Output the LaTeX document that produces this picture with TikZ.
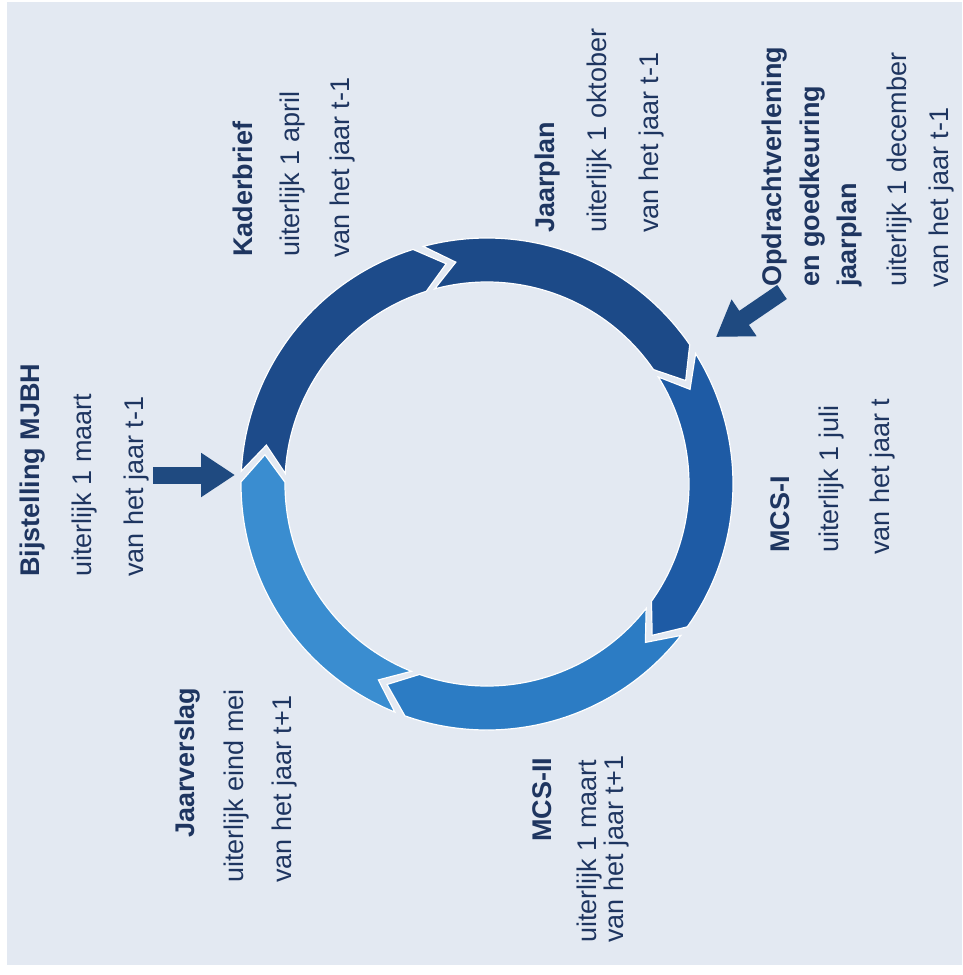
\documentclass[tikz,border=0pt]{standalone}
\usepackage{fontspec}
\setmainfont{Liberation Sans}
\usetikzlibrary{arrows.meta}
\definecolor{bg}{HTML}{E3E9F2}
\definecolor{txt}{HTML}{1E3560}
\definecolor{segA}{HTML}{1D4B8A}
\definecolor{segB}{HTML}{1C4A88}
\definecolor{segC}{HTML}{1E5BA5}
\definecolor{segD}{HTML}{2C7CC4}
\definecolor{segE}{HTML}{3A8DD0}
\definecolor{arrc}{HTML}{1F4A80}
\newcommand\ringseg[3]{%
  \fill[#1,draw=white,line width=1.2pt,line join=miter]
    (#2-1:246) arc[start angle=#2-1, end angle=#3-3.5, radius=246]
    -- (#3+3.5:224) -- (#3-3.5:202)
    arc[start angle=#3-3.5, end angle=#2-1, radius=202]
    -- (#2+6:224) -- cycle;}
\begin{document}
\begin{tikzpicture}[x=1pt,y=-1pt,
  lbl/.style={rotate=90,anchor=west,inner sep=0pt,text=txt,font=\fontsize{27}{30}\selectfont},
  lblb/.style={lbl,font=\fontsize{27}{30}\selectfont\bfseries},
  blockarrow/.style={draw=arrc,line width=17pt,-{Triangle[width=42pt,length=34pt]}}]
\useasboundingbox (0,0) rectangle (962,975);
\fill[white] (0,0) rectangle (962,975);
\fill[bg] (7,2) rectangle (962,965);

% ring
\begin{scope}[shift={(487,484)}]
  \ringseg{segA}{-176}{-104}
  \ringseg{segB}{-104}{-31}
  \ringseg{segC}{-31}{39}
  \ringseg{segD}{39}{113}
  \ringseg{segE}{113}{184}
\end{scope}

% Kaderbrief
\node[lblb] (k1) at (243,257) {Kaderbrief};
\node[lbl]  (k2) at (293,257) {uiterlijk 1 april};
\node[lbl]  (k3) at (343,258) {van het jaar t-1};
% Jaarplan
\node[lblb] (j1) at (548,233) {Jaarplan};
\node[lbl]  (j2) at (600,233) {uiterlijk 1 oktober};
\node[lbl]  (j3) at (652,233) {van het jaar t-1};
% Opdrachtverlening
\node[lblb] (o1) at (775,287) {Opdrachtverlening};
\node[lblb] (o2) at (813,287) {en goedkeuring};
\node[lblb] (o3) at (850,287) {jaarplan};
\node[lbl]  (o4) at (900,287) {uiterlijk 1 december};
\node[lbl]  (o5) at (942,288) {van het jaar t-1};
% Bijstelling
\node[lblb] (b1) at (33,577) {Bijstelling MJBH};
\node[lbl]  (b2) at (85,577) {uiterlijk 1 maart};
\node[lbl]  (b3) at (137,577) {van het jaar t-1};
% MCS-I
\node[lblb] (m1) at (780,553) {MCS-I};
\node[lbl]  (m2) at (832,553) {uiterlijk 1 juli};
\node[lbl]  (m3) at (883,555) {van het jaar t};
% Jaarverslag
\node[lblb] (v1) at (188,838) {Jaarverslag};
\node[lbl]  (v2) at (237,883) {uiterlijk eind mei};
\node[lbl]  (v3) at (285,883) {van het jaar t+1};
% MCS-II
\node[lblb] (n1) at (542,842) {MCS-II};
\node[lbl]  (n2) at (590,943) {uiterlijk 1 maart};
\node[lbl]  (n3) at (617,943) {van het jaar t+1};

% block arrows
\coordinate (bt) at (153,475);
\coordinate (bh) at (235,475);
\draw[blockarrow] (bt) -- (bh);
\coordinate (ot) at (782,292);
\coordinate (oh) at (716,337);
\draw[blockarrow] (ot) -- (oh);
\end{tikzpicture}
\end{document}
